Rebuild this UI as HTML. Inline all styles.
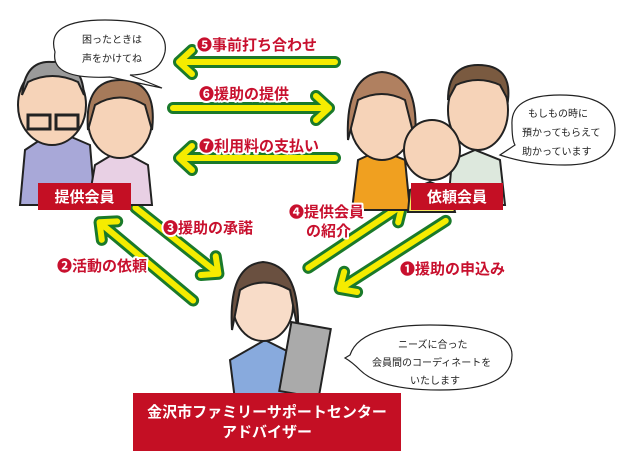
<!DOCTYPE html>
<html><head><meta charset="utf-8"><style>
body{margin:0;background:#fff;}
svg{display:block}
text{font-family:"Liberation Sans","Noto Sans CJK JP",sans-serif;}
.r{fill:#c8102e;font-weight:bold;font-size:15px;stroke:#fff;stroke-width:4px;paint-order:stroke;stroke-linejoin:round}
.b{fill:#222;font-size:10px}
.w{fill:#fff;font-weight:bold}
.g{fill:none;stroke:#1a7a2a;stroke-width:12;stroke-linecap:round;stroke-linejoin:round}
.y{fill:none;stroke:#f5ec00;stroke-width:6;stroke-linecap:round;stroke-linejoin:round}
</style></head><body>
<svg width="626" height="473" viewBox="0 0 626 473" xmlns="http://www.w3.org/2000/svg">
<!-- horizontal arrows -->
<g transform="translate(177,62)"><path class="g" d="M158,0 L2,0 M15,-12 L2,0 L15,12"/><path class="y" d="M158,0 L2,0 M15,-12 L2,0 L15,12"/></g>
<g transform="translate(331,108) rotate(180)"><path class="g" d="M158,0 L2,0 M15,-12 L2,0 L15,12"/><path class="y" d="M158,0 L2,0 M15,-12 L2,0 L15,12"/></g>
<g transform="translate(177,158)"><path class="g" d="M158,0 L2,0 M15,-12 L2,0 L15,12"/><path class="y" d="M158,0 L2,0 M15,-12 L2,0 L15,12"/></g>
<!-- diagonal arrows -->
<g transform="translate(98,221) rotate(39.9)"><path class="g" d="M124,0 L2,0 M15,-12 L2,0 L15,12"/><path class="y" d="M124,0 L2,0 M15,-12 L2,0 L15,12"/></g>
<g transform="translate(220,275) rotate(218.5)"><path class="g" d="M108,0 L2,0 M15,-12 L2,0 L15,12"/><path class="y" d="M108,0 L2,0 M15,-12 L2,0 L15,12"/></g>
<g transform="translate(404,204) rotate(146.3)"><path class="g" d="M115,0 L2,0 M15,-12 L2,0 L15,12"/><path class="y" d="M115,0 L2,0 M15,-12 L2,0 L15,12"/></g>
<g transform="translate(338,290) rotate(-32.7)"><path class="g" d="M128,0 L2,0 M15,-12 L2,0 L15,12"/><path class="y" d="M128,0 L2,0 M15,-12 L2,0 L15,12"/></g>
<!-- left characters -->
<path d="M20,205 L25,150 L55,130 L90,145 L95,205 Z" fill="#a8a8d8" stroke="#222" stroke-width="2"/>
<ellipse cx="52" cy="105" rx="34" ry="40" fill="#f6d3b8" stroke="#222" stroke-width="2"/>
<path d="M22,95 Q25,60 52,62 Q82,60 84,95 L78,82 Q52,70 28,82 Z" fill="#9a9a9a" stroke="#222" stroke-width="2"/>
<rect x="28" y="115" width="22" height="14" fill="none" stroke="#222" stroke-width="3"/>
<rect x="56" y="115" width="22" height="14" fill="none" stroke="#222" stroke-width="3"/>
<path d="M88,205 L95,165 L120,150 L148,165 L152,205 Z" fill="#e8d0e4" stroke="#222" stroke-width="2"/>
<ellipse cx="120" cy="120" rx="32" ry="38" fill="#f6d3b8" stroke="#222" stroke-width="2"/>
<path d="M88,130 Q84,80 120,80 Q158,80 152,130 L145,105 Q120,90 95,105 Z" fill="#a67a5a" stroke="#222" stroke-width="2"/>
<!-- right characters -->
<path d="M352,210 L358,160 L380,150 L405,160 L410,210 Z" fill="#f0a020" stroke="#222" stroke-width="2"/>
<ellipse cx="382" cy="120" rx="32" ry="40" fill="#f6d3b8" stroke="#222" stroke-width="2"/>
<path d="M348,140 Q345,75 382,72 Q420,75 415,140 L405,100 Q382,88 358,100 Z" fill="#b08060" stroke="#222" stroke-width="2"/>
<path d="M448,205 L452,160 L475,150 L500,160 L505,205 Z" fill="#dde8dd" stroke="#222" stroke-width="2"/>
<ellipse cx="478" cy="110" rx="30" ry="40" fill="#f6d3b8" stroke="#222" stroke-width="2"/>
<path d="M448,100 Q448,65 478,65 Q512,65 508,100 L500,85 Q478,75 456,85 Z" fill="#7a5a40" stroke="#222" stroke-width="2"/>
<path d="M408,212 L410,190 L430,182 L450,190 L455,212 Z" fill="#f5e860" stroke="#222" stroke-width="2"/>
<ellipse cx="432" cy="150" rx="28" ry="30" fill="#f6d3b8" stroke="#222" stroke-width="2"/>
<!-- center character -->
<path d="M235,400 L230,360 L265,340 L295,355 L300,400 Z" fill="#88aadd" stroke="#222" stroke-width="2"/>
<ellipse cx="263" cy="305" rx="30" ry="36" fill="#f8dcc8" stroke="#222" stroke-width="2"/>
<path d="M232,330 Q228,265 263,262 Q300,265 298,330 L290,290 Q263,275 240,290 Z" fill="#6a5040" stroke="#222" stroke-width="2"/>
<rect x="285" y="325" width="40" height="70" fill="#aaa" stroke="#222" stroke-width="2" transform="rotate(10 305 360)"/>
<!-- labels -->
<text class="r" x="197" y="50">❺事前打ち合わせ</text>
<text class="r" x="199" y="99">❻援助の提供</text>
<text class="r" x="199" y="151">❼利用料の支払い</text>
<text class="r" x="163" y="233">❸援助の承諾</text>
<text class="r" x="289" y="217">❹提供会員</text>
<text class="r" x="306" y="236">の紹介</text>
<text class="r" x="57" y="271">❷活動の依頼</text>
<text class="r" x="400" y="274">❶援助の申込み</text>
<!-- bubbles -->
<path d="M55,52 Q45,20 105,20 Q170,20 165,52 Q160,75 130,75 L162,88 L110,77 Q50,80 55,52 Z" fill="#fff" stroke="#222" stroke-width="1.2"/>
<text class="b" x="82" y="43">困ったときは</text>
<text class="b" x="82" y="62">声をかけてね</text>
<path d="M512,125 Q510,95 560,95 Q615,95 615,130 Q615,165 565,165 Q530,165 500,155 L515,145 Q512,140 512,125 Z" fill="#fff" stroke="#222" stroke-width="1.2"/>
<text class="b" x="528" y="117">もしもの時に</text>
<text class="b" x="522" y="136">預かってもらえて</text>
<text class="b" x="522" y="155">助かっています</text>
<path d="M350,355 Q360,325 430,325 Q512,325 512,355 Q512,390 440,390 Q380,390 360,370 Q352,362 345,358 Z" fill="#fff" stroke="#222" stroke-width="1.2"/>
<text class="b" x="398" y="348">ニーズに合った</text>
<text class="b" x="372" y="366">会員間のコーディネートを</text>
<text class="b" x="410" y="384">いたします</text>
<!-- boxes -->
<rect x="38" y="183" width="93" height="27" fill="#c40f24"/>
<text class="w" x="84.5" y="202" text-anchor="middle" font-size="15">提供会員</text>
<rect x="411" y="183" width="92" height="27" fill="#c40f24"/>
<text class="w" x="457" y="202" text-anchor="middle" font-size="15">依頼会員</text>
<rect x="133" y="393" width="268" height="58" fill="#c40f24"/>
<text class="w" x="267" y="417" text-anchor="middle" font-size="15">金沢市ファミリーサポートセンター</text>
<text class="w" x="267" y="437" text-anchor="middle" font-size="15">アドバイザー</text>
</svg>
</body></html>
